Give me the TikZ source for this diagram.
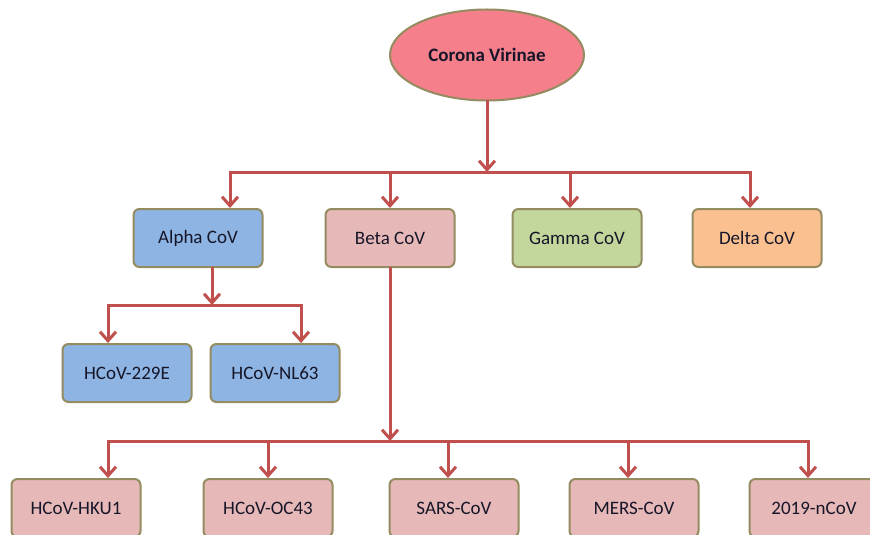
\documentclass[tikz,border=0pt]{standalone}
\usepackage{fontspec}
\setmainfont{Carlito}
\usetikzlibrary{shapes.geometric,arrows.meta}

\definecolor{rootfill}{RGB}{245,128,140}
\definecolor{alphafill}{RGB}{141,180,226}
\definecolor{betafill}{RGB}{230,185,184}
\definecolor{gammafill}{RGB}{195,214,155}
\definecolor{deltafill}{RGB}{250,192,144}
\definecolor{boxline}{RGB}{148,140,96}
\definecolor{linkred}{RGB}{192,80,77}
\definecolor{txt}{RGB}{22,22,40}

\begin{document}
\begin{tikzpicture}[x=0.5pt,y=-0.5pt,
    box/.style={draw=boxline,line width=1pt,rounded corners=3pt,
        minimum width=64.5pt,minimum height=29pt,inner sep=0pt,
        text=txt,font=\fontsize{9.5}{11}\selectfont},
    link/.style={draw=linkred,line width=1.5pt,line cap=rect},
    arr/.style={link,-{Straight Barb[length=4.5pt,width=8pt,line width=1.5pt]}}]

        \useasboundingbox (0,0) rectangle (870,534);
        \clip (0,0) rectangle (870,534);

        % ------------------------------------------------ root
        \node[ellipse,draw=boxline,line width=1pt,fill=rootfill,
              minimum width=97pt,minimum height=45.5pt,text=txt,
              font=\bfseries\fontsize{9.5}{11}\selectfont] (root) at (487,55) {Corona Virinae};

        % ------------------------------------------------ genera
        \node[box,fill=alphafill] (alpha) at (198,238) {Alpha CoV};
        \node[box,fill=betafill]  (beta)  at (390,238) {Beta CoV};
        \node[box,fill=gammafill] (gamma) at (577,238) {Gamma CoV};
        \node[box,fill=deltafill] (delta) at (757,238) {Delta CoV};

        \coordinate (rsplit) at (487,172);
        \coordinate (rL) at (230,172);
        \coordinate (rB) at (390,172);
        \coordinate (rG) at (570,172);
        \coordinate (rR) at (750,172);

        \draw[arr] (root.south) -- (rsplit);
        \draw[link] (rL) -- (rR);
        \draw[arr] (rL) -- (alpha.north -| rL);
        \draw[arr] (rB) -- (beta.north -| rB);
        \draw[arr] (rG) -- (gamma.north -| rG);
        \draw[arr] (rR) -- (delta.north -| rR);

        % ------------------------------------------------ alpha species
        \node[box,fill=alphafill] (e229) at (127,373) {HCoV-229E};
        \node[box,fill=alphafill] (nl63) at (275,373) {HCoV-NL63};

        \coordinate (asplit) at (212,305);
        \coordinate (aL) at (108,305);
        \coordinate (aR) at (301,305);

        \draw[arr] (alpha.south -| asplit) -- (asplit);
        \draw[link] (aL) -- (aR);
        \draw[arr] (aL) -- (e229.north -| aL);
        \draw[arr] (aR) -- (nl63.north -| aR);

        % ------------------------------------------------ beta species
        \node[box,fill=betafill] (hku1) at (76,508)  {HCoV-HKU1};
        \node[box,fill=betafill] (oc43) at (268,508) {HCoV-OC43};
        \node[box,fill=betafill] (sars) at (454,508) {SARS-CoV};
        \node[box,fill=betafill] (mers) at (634,508) {MERS-CoV};
        \node[box,fill=betafill] (ncov) at (814,508) {2019-nCoV};

        \coordinate (bsplit) at (390,441);
        \coordinate (b1) at (108,441);
        \coordinate (b2) at (268,441);
        \coordinate (b3) at (448,441);
        \coordinate (b4) at (628,441);
        \coordinate (b5) at (808,441);

        \draw[arr] (beta.south) -- (bsplit);
        \draw[link] (b1) -- (b5);
        \draw[arr] (b1) -- (hku1.north -| b1);
        \draw[arr] (b2) -- (oc43.north -| b2);
        \draw[arr] (b3) -- (sars.north -| b3);
        \draw[arr] (b4) -- (mers.north -| b4);
        \draw[arr] (b5) -- (ncov.north -| b5);

\end{tikzpicture}
\end{document}
